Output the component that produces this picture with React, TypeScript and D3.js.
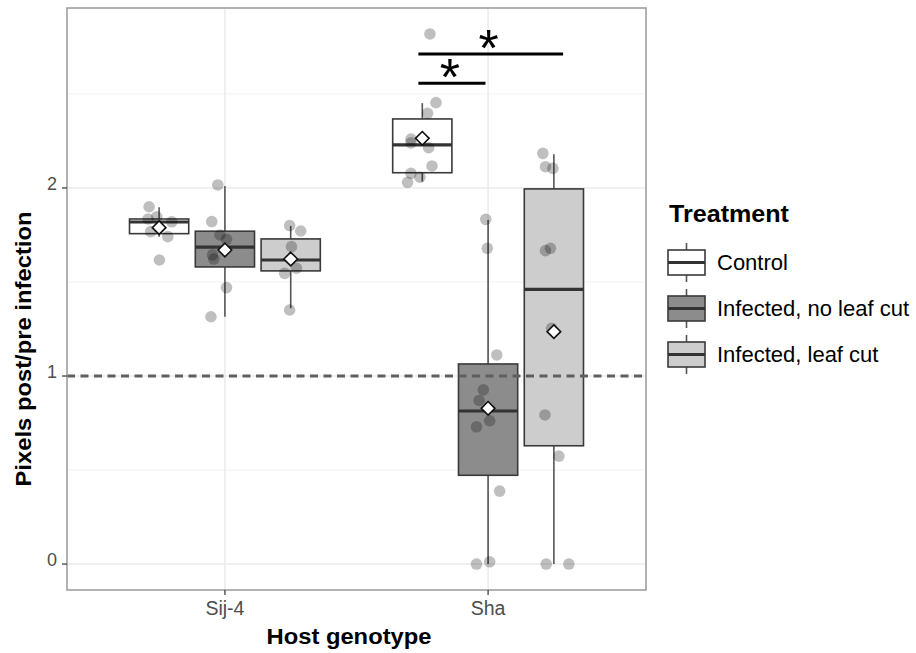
import React from "react";
import * as d3 from "d3";

// ---------- data ----------
const genotypes = ["Sij-4", "Sha"];
const treatments = ["Control", "Infected, no leaf cut", "Infected, leaf cut"];
const treatmentFills = ["#ffffff", "#8c8c8c", "#cdcdcd"];

// box statistics, order: Sij-4 (Control, No cut, Cut), Sha (Control, No cut, Cut)
const whiskerLow = [1.741, 1.315, 1.36, 2.034, 0.0, 0.0];
const quart1 = [1.757, 1.58, 1.559, 2.081, 0.472, 0.629];
const medians = [1.819, 1.685, 1.617, 2.229, 0.814, 1.461];
const quart3 = [1.835, 1.77, 1.729, 2.367, 1.064, 1.995];
const whiskerHigh = [1.897, 2.011, 1.798, 2.451, 1.83, 2.179];
const means = [1.789, 1.67, 1.622, 2.264, 0.828, 1.236];

// raw observations per group
const ptsSij4Control = [1.9, 1.835, 1.847, 1.82, 1.768, 1.741, 1.617];
const ptsSij4NoCut = [2.016, 1.821, 1.75, 1.727, 1.644, 1.622, 1.47, 1.315];
const ptsSij4Cut = [1.8, 1.771, 1.688, 1.62, 1.573, 1.546, 1.351];
const ptsShaControl = [2.819, 2.454, 2.397, 2.26, 2.24, 2.214, 2.117, 2.078, 2.057, 2.03];
const ptsShaNoCut = [1.833, 1.679, 1.112, 0.926, 0.87, 0.762, 0.73, 0.388, 0.0, 0.012];
const ptsShaCut = [2.184, 2.113, 2.104, 1.679, 1.667, 1.254, 0.793, 0.574, 0.0, 0.0];

// horizontal jitter (category units)
const jitSij4Control = [-0.038, -0.042, -0.009, 0.048, -0.032, 0.033, 0.001];
const jitSij4NoCut = [-0.027, -0.05, -0.019, 0.006, -0.047, -0.042, 0.006, -0.053];
const jitSij4Cut = [-0.004, 0.038, 0.003, 0.0, 0.022, -0.023, -0.004];
const jitShaControl = [0.029, 0.052, 0.02, -0.043, -0.043, 0.024, 0.037, -0.043, -0.009, -0.056];
const jitShaNoCut = [-0.009, -0.003, 0.033, -0.018, -0.034, 0.006, -0.044, 0.044, -0.044, 0.006];
const jitShaCut = [-0.042, -0.032, -0.004, -0.013, -0.032, -0.009, -0.034, 0.019, -0.029, 0.057];

const groupPoints = [ptsSij4Control, ptsSij4NoCut, ptsSij4Cut, ptsShaControl, ptsShaNoCut, ptsShaCut];
const groupJitter = [jitSij4Control, jitSij4NoCut, jitSij4Cut, jitShaControl, jitShaNoCut, jitShaCut];

const yTicks = [0, 1, 2];
const yMinor = [0.5, 1.5, 2.5];
const refLine = 1;

// significance brackets
const sigStart = [1.735, 1.735];
const sigEnd = [2.285, 1.99];
const sigLevel = [2.713, 2.557];
const sigLabel = ["*", "*"];

// ---------- layout ----------
const W = 916;
const H = 653;
const P = { left: 67, right: 646, top: 8, bottom: 590 };
const FONT = "'Liberation Sans', Arial, Helvetica, sans-serif";

const x = d3.scaleLinear().domain([0.4, 2.6]).range([P.left, P.right]);
const y = d3.scaleLinear().domain([-0.138, 2.957]).range([P.bottom, P.top]);
const dodge = 0.25;
const boxW = 0.225;

export default function App() {
  const groups = d3.range(6).map((i) => {
    const g = Math.floor(i / 3);
    const t = i % 3;
    const cx = g + 1 + (t - 1) * dodge;
    return { i, g, t, cx };
  });

  const diamond = (px: number, py: number, r = 6.8) =>
    `M${px},${py - r}L${px + r},${py}L${px},${py + r}L${px - r},${py}Z`;

  return (
    <svg
      width={W}
      height={H}
      style={{ position: "absolute", left: 0, top: 0, display: "block", background: "#fff" }}
      fontFamily={FONT}
    >
      <rect x={0} y={0} width={W} height={H} fill="#fff" />
      {/* grid */}
      {yMinor.map((v) => (
        <line key={"mn" + v} x1={P.left} x2={P.right} y1={y(v)} y2={y(v)} stroke="#f2f2f2" strokeWidth={1} />
      ))}
      {yTicks.map((v) => (
        <line key={"mj" + v} x1={P.left} x2={P.right} y1={y(v)} y2={y(v)} stroke="#ebebeb" strokeWidth={1.5} />
      ))}
      {genotypes.map((gname, gi) => (
        <line key={"vx" + gname} x1={x(gi + 1)} x2={x(gi + 1)} y1={P.top} y2={P.bottom} stroke="#ebebeb" strokeWidth={1.5} />
      ))}

      {/* boxes */}
      {groups.map(({ i, t, cx }) => {
        const xl = x(cx - boxW / 2);
        const xr = x(cx + boxW / 2);
        const xc = x(cx);
        return (
          <g key={"box" + i}>
            <line x1={xc} x2={xc} y1={y(whiskerHigh[i])} y2={y(quart3[i])} stroke="#555" strokeWidth={1.6} />
            <line x1={xc} x2={xc} y1={y(quart1[i])} y2={y(whiskerLow[i])} stroke="#555" strokeWidth={1.6} />
            <rect
              x={xl}
              y={y(quart3[i])}
              width={xr - xl}
              height={y(quart1[i]) - y(quart3[i])}
              fill={treatmentFills[t]}
              stroke="#3a3a3a"
              strokeWidth={1.6}
            />
            <line x1={xl} x2={xr} y1={y(medians[i])} y2={y(medians[i])} stroke="#333" strokeWidth={3.2} />
          </g>
        );
      })}

      {/* reference line */}
      <line
        x1={P.left}
        x2={P.right}
        y1={y(refLine)}
        y2={y(refLine)}
        stroke="#5f5f5f"
        strokeWidth={2.8}
        strokeDasharray="8,5.5"
      />

      {/* points */}
      {groups.map(({ i, cx }) =>
        groupPoints[i].map((v, k) => (
          <circle key={"p" + i + "-" + k} cx={x(cx + groupJitter[i][k])} cy={y(v)} r={5.8} fill="#000" fillOpacity={0.25} />
        ))
      )}

      {/* means */}
      {groups.map(({ i, cx }) => (
        <path key={"m" + i} d={diamond(x(cx), y(means[i]))} fill="#fff" stroke="#111" strokeWidth={1.6} />
      ))}

      {/* significance */}
      {sigStart.map((s, k) => (
        <g key={"sig" + k}>
          <line x1={x(s)} x2={x(sigEnd[k])} y1={y(sigLevel[k])} y2={y(sigLevel[k])} stroke="#000" strokeWidth={3} />
          <text
            x={x((s + sigEnd[k]) / 2) - 2}
            y={y(sigLevel[k]) + 12}
            textAnchor="middle"
            fontSize={52}
            fill="#000"
          >
            {sigLabel[k]}
          </text>
        </g>
      ))}

      {/* panel border */}
      <rect x={P.left} y={P.top} width={P.right - P.left} height={P.bottom - P.top} fill="none" stroke="#999" strokeWidth={1.5} />

      {/* y axis */}
      {yTicks.map((v) => (
        <g key={"yt" + v}>
          <line x1={P.left - 5} x2={P.left} y1={y(v)} y2={y(v)} stroke="#333" strokeWidth={1.2} />
          <text x={57} y={y(v) + 2} textAnchor="end" fontSize={18} fill="#4d4d4d">
            {d3.format("d")(v)}
          </text>
        </g>
      ))}
      {/* x axis */}
      {genotypes.map((gname, gi) => (
        <g key={"xt" + gname}>
          <line x1={x(gi + 1)} x2={x(gi + 1)} y1={P.bottom} y2={P.bottom + 5} stroke="#333" strokeWidth={1.2} />
          <text x={x(gi + 1)} y={615} textAnchor="middle" fontSize={19.5} fill="#4d4d4d">
            {gname}
          </text>
        </g>
      ))}

      {/* axis titles */}
      <text x={349} y={644} textAnchor="middle" fontSize={22} fontWeight="bold" fill="#000" textLength={165} lengthAdjust="spacingAndGlyphs">
        Host genotype
      </text>
      <text
        transform="translate(31,349) rotate(-90)"
        textAnchor="middle"
        fontSize={22}
        fontWeight="bold"
        fill="#000"
        textLength={275}
        lengthAdjust="spacingAndGlyphs"
      >
        Pixels post/pre infection
      </text>

      {/* legend */}
      <text x={669} y={222} fontSize={23} fontWeight="bold" fill="#000" textLength={120} lengthAdjust="spacingAndGlyphs">
        Treatment
      </text>
      {treatments.map((tname, t) => {
        const cy = 262.5 + t * 46;
        const kx = 686.5;
        return (
          <g key={"lg" + t}>
            <line x1={kx} x2={kx} y1={cy - 19.5} y2={cy + 19.5} stroke="#555" strokeWidth={1.6} />
            <rect x={668} y={cy - 12.5} width={37} height={25} fill={treatmentFills[t]} stroke="#3a3a3a" strokeWidth={1.6} />
            <line x1={668} x2={705} y1={cy} y2={cy} stroke="#333" strokeWidth={3} />
            <text x={717} y={cy + 7.5} fontSize={22} fill="#000">
              {tname}
            </text>
          </g>
        );
      })}
    </svg>
  );
}
